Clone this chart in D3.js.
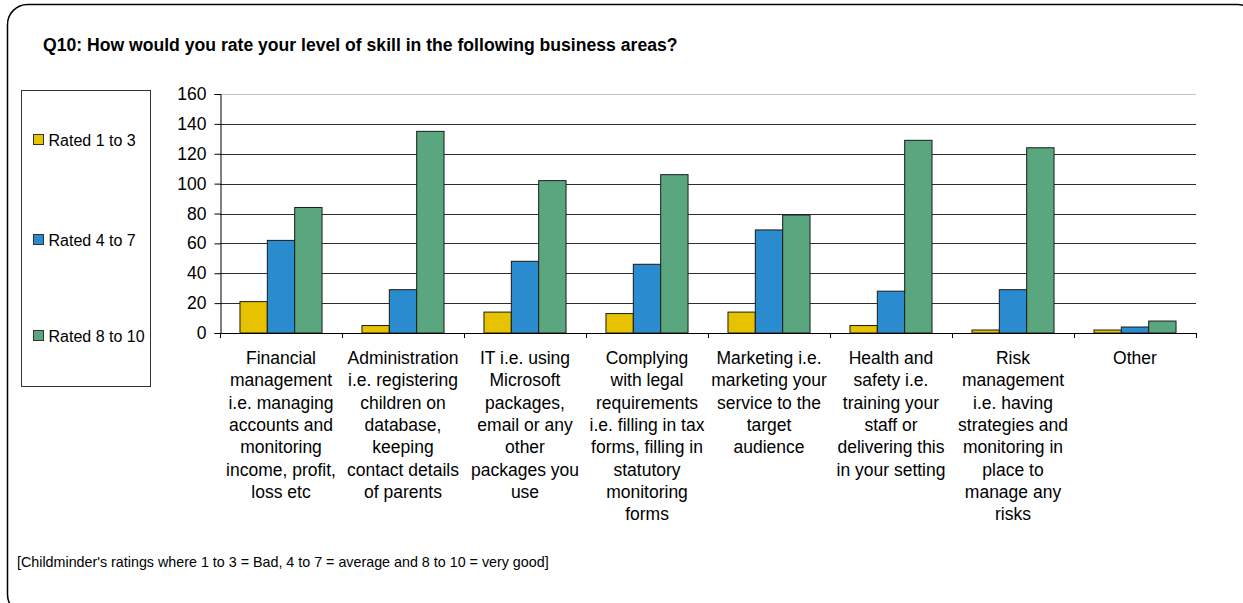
<!DOCTYPE html>
<html>
<head>
<meta charset="utf-8">
<script src="https://cdn.jsdelivr.net/npm/d3@7"></script>
<style>
  html, body { margin: 0; padding: 0; background: #fff; }
  svg { display: block; font-family: "Liberation Sans", Arial, sans-serif; }
</style>
</head>
<body>
<svg id="chart" width="1243" height="603"></svg>
<script>
// Survey categories (multi-line labels) and counts per rating band
const categories = [
  ["Financial", "management", "i.e. managing", "accounts and", "monitoring", "income, profit,", "loss etc"],
  ["Administration", "i.e. registering", "children on", "database,", "keeping", "contact details", "of parents"],
  ["IT i.e. using", "Microsoft", "packages,", "email or any", "other", "packages you", "use"],
  ["Complying", "with legal", "requirements", "i.e. filling in tax", "forms, filling in", "statutory", "monitoring", "forms"],
  ["Marketing i.e.", "marketing your", "service to the", "target", "audience"],
  ["Health and", "safety i.e.", "training your", "staff or", "delivering this", "in your setting"],
  ["Risk", "management", "i.e. having", "strategies and", "monitoring in", "place to", "manage any", "risks"],
  ["Other"]
];
const seriesNames = ["Rated 1 to 3", "Rated 4 to 7", "Rated 8 to 10"];
const rated1to3 = [21, 5, 14, 13, 14, 5, 2, 2];
const rated4to7 = [62, 29, 48, 46, 69, 28, 29, 4];
const rated8to10 = [84, 135, 102, 106, 79, 129, 124, 8];
const yTicks = [0, 20, 40, 60, 80, 100, 120, 140, 160];
const colors = ["#e6c200", "#2a8ccf", "#5aa77f"];

const seriesValues = [rated1to3, rated4to7, rated8to10];
const svg = d3.select("#chart");

// Rounded outer frame
svg.append("rect")
  .attr("x", 7.5).attr("y", 4.5)
  .attr("width", 1250).attr("height", 610)
  .attr("rx", 20).attr("ry", 20)
  .attr("fill", "#fff").attr("stroke", "#000").attr("stroke-width", 1.5);

// Title
svg.append("text")
  .attr("x", 43).attr("y", 51)
  .attr("font-size", 17.6).attr("font-weight", "bold")
  .text("Q10: How would you rate your level of skill in the following business areas?");

// Plot geometry
const plotLeft = 220, plotRight = 1196, plotTop = 94, plotBottom = 333;
const x = d3.scaleBand().domain(d3.range(categories.length)).range([plotLeft, plotRight]).paddingInner(0).paddingOuter(0);
const y = d3.scaleLinear().domain([0, 160]).range([plotBottom, plotTop]);
const inner = d3.scaleBand().domain(d3.range(seriesNames.length))
  .range([0, x.bandwidth()]).paddingOuter(0.73).paddingInner(0);

// Gridlines
svg.append("g").selectAll("line")
  .data(yTicks.filter(d => d > 0))
  .join("line")
  .attr("x1", plotLeft).attr("x2", plotRight)
  .attr("y1", d => Math.round(y(d)) + 0.5).attr("y2", d => Math.round(y(d)) + 0.5)
  .attr("stroke", d => d === 160 ? "#c4c4c4" : "#2e2e2e")
  .attr("stroke-width", 1.2);

// Bars
const groups = svg.append("g").selectAll("g")
  .data(categories.map((c, i) => i))
  .join("g")
  .attr("transform", i => `translate(${x(i)},0)`);

groups.selectAll("rect")
  .data(i => seriesValues.map((vals, s) => ({ s, v: vals[i] })))
  .join("rect")
  .attr("x", d => inner(d.s))
  .attr("width", inner.bandwidth())
  .attr("y", d => y(d.v))
  .attr("height", d => y(0) - y(d.v))
  .attr("fill", d => colors[d.s])
  .attr("stroke", "#1a1a1a").attr("stroke-width", 1);

// Y axis
const yAxis = d3.axisLeft(y).tickValues(yTicks).tickSize(6).tickPadding(8);
const gy = svg.append("g").attr("transform", `translate(${plotLeft + 0.5},0)`).call(yAxis);
gy.select(".domain").attr("stroke", "#000");
gy.selectAll(".tick line").attr("stroke", "#000");
gy.selectAll(".tick text").attr("font-size", 17.5).attr("fill", "#000")
  .attr("font-family", "Liberation Sans, Arial, sans-serif");

// X axis line with ticks at category boundaries
svg.append("line")
  .attr("x1", plotLeft).attr("x2", plotRight)
  .attr("y1", plotBottom + 0.5).attr("y2", plotBottom + 0.5)
  .attr("stroke", "#000");
svg.append("g").selectAll("line")
  .data(d3.range(categories.length + 1))
  .join("line")
  .attr("x1", i => Math.round(plotLeft + i * x.bandwidth()) + 0.5)
  .attr("x2", i => Math.round(plotLeft + i * x.bandwidth()) + 0.5)
  .attr("y1", plotBottom).attr("y2", plotBottom + 5)
  .attr("stroke", "#000");

// Category labels
const lbl = svg.append("g").selectAll("text")
  .data(categories)
  .join("text")
  .attr("x", (d, i) => x(i) + x.bandwidth() / 2)
  .attr("y", 364)
  .attr("text-anchor", "middle")
  .attr("font-size", 17.5)
  .attr("fill", "#000");
lbl.selectAll("tspan")
  .data(d => d)
  .join("tspan")
  .attr("x", function () { return d3.select(this.parentNode).attr("x"); })
  .attr("dy", (d, j) => j === 0 ? 0 : 22.3)
  .text(d => d);

// Legend
svg.append("rect")
  .attr("x", 21.5).attr("y", 90.5).attr("width", 129).attr("height", 296)
  .attr("fill", "#fff").attr("stroke", "#333").attr("stroke-width", 1);
const legendY = [140, 240, 336];
const leg = svg.append("g").selectAll("g")
  .data(seriesNames)
  .join("g")
  .attr("transform", (d, i) => `translate(33,${legendY[i]})`);
leg.append("rect")
  .attr("x", 0.5).attr("y", -5.5).attr("width", 10).attr("height", 10)
  .attr("fill", (d, i) => colors[i]).attr("stroke", "#333");
leg.append("text")
  .attr("x", 15.5).attr("y", 6)
  .attr("font-size", 16)
  .text(d => d);

// Footnote
svg.append("text")
  .attr("x", 17).attr("y", 567)
  .attr("font-size", 14.3)
  .text("[Childminder's ratings where 1 to 3 = Bad, 4 to 7 = average and 8 to 10 = very good]");
</script>
</body>
</html>
